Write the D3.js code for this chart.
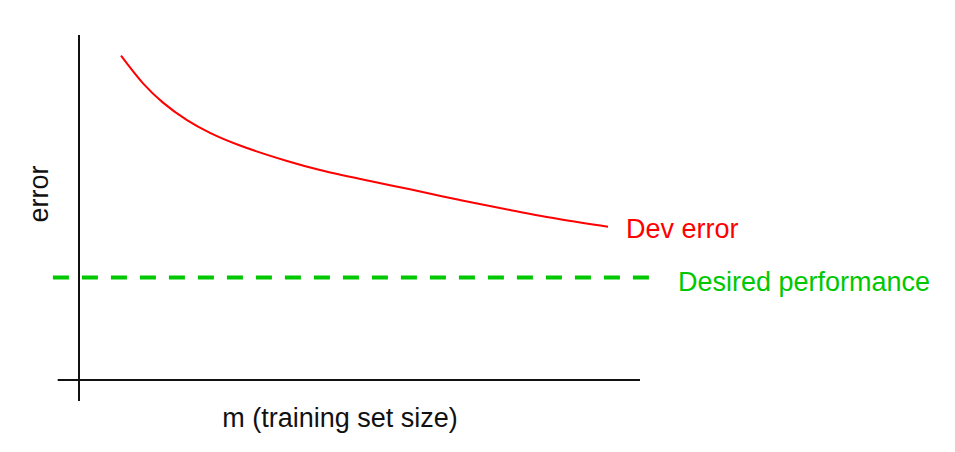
<!DOCTYPE html>
<html>
<head>
<meta charset="utf-8">
<script src="https://cdn.jsdelivr.net/npm/d3@7"></script>
<style>
  html, body { margin: 0; padding: 0; background: #fff; }
  svg { display: block; }
  text { font-family: "Liberation Sans", Arial, Helvetica, sans-serif; }
</style>
</head>
<body>
<svg id="chart" width="955" height="452"></svg>
<script>
// Data (abstract units: m 0..100, error 0..100)
const trainingSize = [7.49, 11.41, 14.97, 19.25, 23.35, 28.70, 37.08, 42.96, 51.87, 59.00, 67.91, 76.83, 85.74, 94.30];
const devError     = [94.0, 86.0, 80.4, 75.33, 71.65, 67.97, 63.48, 60.87, 57.68, 55.28, 52.17, 49.28, 46.58, 44.43];
const desiredPerformance = 29.7;
const xLabel = "m (training set size)";
const yLabel = "error";
const devLabel = "Dev error";
const desiredLabel = "Desired performance";

const svg = d3.select("#chart");
const x = d3.scaleLinear().domain([0, 100]).range([79, 640]);
const y = d3.scaleLinear().domain([0, 100]).range([380, 35]);

// Axes
svg.append("line")
  .attr("x1", x(0)).attr("x2", x(0))
  .attr("y1", y(100)).attr("y2", y(-6.1))
  .attr("stroke", "#111").attr("stroke-width", 2);
svg.append("line")
  .attr("x1", x(-3.8)).attr("x2", x(100))
  .attr("y1", y(0)).attr("y2", y(0))
  .attr("stroke", "#111").attr("stroke-width", 2);

// Desired performance dashed line
svg.append("line")
  .attr("x1", x(-4.65)).attr("x2", x(101.7))
  .attr("y1", y(desiredPerformance)).attr("y2", y(desiredPerformance))
  .attr("stroke", "#00c800").attr("stroke-width", 4)
  .attr("stroke-dasharray", "16,13");

// Dev error curve
const pts = trainingSize.map((m, i) => [m, devError[i]]);
const lineGen = d3.line()
  .x(d => x(d[0]))
  .y(d => y(d[1]))
  .curve(d3.curveCatmullRom.alpha(0.5));
svg.append("path")
  .datum(pts)
  .attr("fill", "none")
  .attr("stroke", "#ff0000")
  .attr("stroke-width", 2)
  .attr("d", lineGen);

// Labels
svg.append("text")
  .attr("x", 626).attr("y", 238)
  .attr("fill", "#ff0000").attr("font-size", 27)
  .text(devLabel);
svg.append("text")
  .attr("x", 678).attr("y", 291)
  .attr("fill", "#00c800").attr("font-size", 27)
  .text(desiredLabel);
svg.append("text")
  .attr("x", 340).attr("y", 427)
  .attr("text-anchor", "middle")
  .attr("fill", "#111").attr("font-size", 27)
  .text(xLabel);
svg.append("text")
  .attr("transform", "translate(48,194) rotate(-90)")
  .attr("text-anchor", "middle")
  .attr("fill", "#111").attr("font-size", 27)
  .text(yLabel);
</script>
</body>
</html>
